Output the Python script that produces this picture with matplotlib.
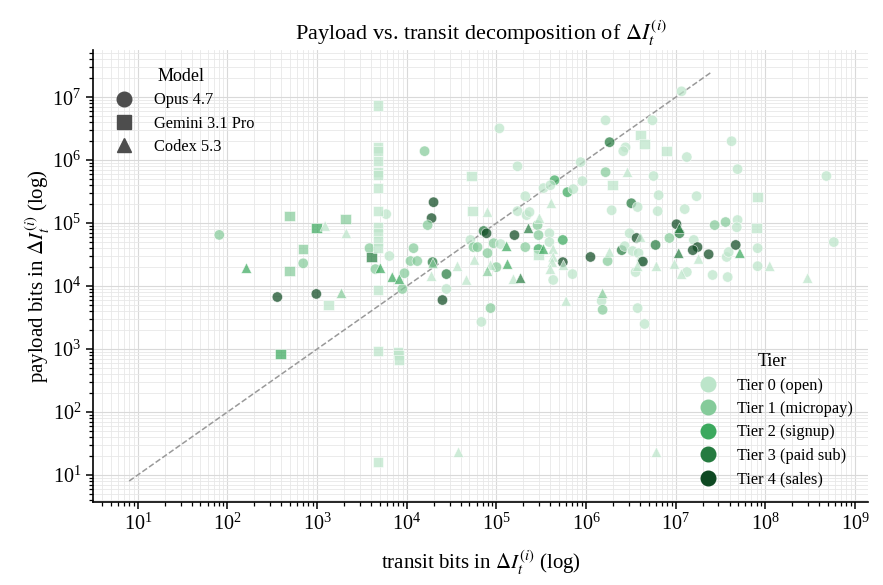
import matplotlib
matplotlib.use("Agg")
import matplotlib.pyplot as plt
from matplotlib.lines import Line2D
from matplotlib.ticker import LogLocator, NullFormatter
import numpy as np

plt.rcParams['font.family'] = ['Liberation Serif', 'DejaVu Serif']
plt.rcParams['mathtext.fontset'] = 'stix'

# ---- data: transit bits, payload bits, model, tier ----
transit = [
    81, 163, 360, 980, 490, 490, 980, 1230, 2070, 2120, 700, 700, 1870, 1340, 390,
    3840, 4040, 4470, 5080, 5900,
    4800, 4800, 4800, 4800, 4800, 4800, 4800, 4800, 4800, 4800, 4800, 4800, 4800, 4800, 4800,
    8000, 8100, 8200,
    1.08e5, 1.58e4, 1.72e5, 5.27e4, 8.7e5, 1.65e6, 1.83e6, 2.76e6, 2.6e6, 5.5e6,
    4.05e6, 4.5e6, 7.9e6, 4.45e5, 6.2e5, 7.2e5, 9.1e5, 3.35e5, 4.0e5, 1.65e6,
    2.9e6, 1.98e6, 5.66e6, 6.45e6, 2.1e5, 4.1e5, 1.99e4, 1.89e4, 1.71e4,
    5.4e4, 7.96e4, 1.72e5, 2.17e5, 2.34e5, 3.2e6, 3.76e6, 1.93e6, 6.3e6, 1.02e7,
    7.2e4, 7.76e4, 1.59e5, 2.28e5, 2.88e5, 3.02e5, 2.95e5, 3.9e5, 5.5e5, 8.5e6,
    1.19e4, 6.4e3,
    1.1e4, 1.31e4, 1.94e4, 1.96e4, 1.89e4, 9.42e3, 6.9e3, 8.28e3, 8.93e3, 2.77e4,
    2.77e4, 2.5e4, 3.68e4, 4.64e4, 5.13e4, 5.55e4, 6.15e4, 9.3e4, 7.96e4, 5.7e4,
    1.0e5, 8.6e4, 7.96e4, 1.33e5, 1.3e5, 1.11e5, 2.1e5, 1.55e5, 1.86e5, 8.6e4,
    6.8e4, 2.95e5, 3.35e5, 2.95e5, 3.9e5, 4.3e5, 4.3e5, 4.2e5, 4.3e5, 4.0e5,
    5.5e5, 5.6e5, 7.06e5, 1.12e6, 1.74e6, 1.83e6, 1.53e6, 1.49e6, 1.53e6, 6.0e5,
    2.5e6, 3.06e6, 2.7e6, 3.3e6, 3.66e6, 4.05e6, 3.85e6, 4.17e6, 4.3e6, 3.76e6,
    3.57e6, 3.76e6, 4.5e6, 5.96e6, 6.1e6, 1.08e7, 9.7e6,
    1.71e7, 1.26e7, 8.2e7, 8.0e7, 2.72e7, 3.6e7, 4.9e7, 4.8e7, 1.1e7, 1.1e7,
    1.59e7, 1.75e7, 1.55e7, 2.33e7, 1.8e7, 1.33e7, 1.16e7, 2.58e7, 3.8e7, 3.7e7,
    3.9e7, 4.67e7, 5.2e7, 8.2e7, 8.2e7, 1.12e8, 2.96e8, 5.8e8,
    1.16e7, 4.2e7, 1.33e7, 4.9e7, 4.8e8,
    3.78e4, 6.1e6,
]
payload = [
    6.5e4, 1.93e4, 6.7e3, 7.5e3, 1.29e5, 1.73e4, 8.3e4, 9.0e4, 1.16e5, 6.9e4, 3.87e4, 2.3e4, 7.7e3, 5.0e3, 830,
    4.0e4, 2.9e4, 1.86e4, 1.93e4, 1.39e5,
    7.4e6, 1.6e6, 1.39e6, 9.6e5, 6.5e5, 5.8e5, 3.6e5, 1.55e5, 8.6e4, 6.9e4, 5.2e4, 4.0e4, 8.6e3, 930, 16,
    890, 800, 670,
    3.2e6, 1.39e6, 8.0e5, 5.6e5, 9.3e5, 4.3e6, 1.93e6, 1.6e6, 1.39e6, 4.3e6,
    2.5e6, 1.8e6, 1.39e6, 4.8e5, 3.1e5, 3.47e5, 4.65e5, 3.6e5, 4.0e5, 6.45e5,
    6.45e5, 4.0e5, 5.6e5, 2.78e5, 2.68e5, 2.07e5, 2.15e5, 1.2e5, 9.3e4,
    1.55e5, 1.5e5, 1.55e5, 1.34e5, 1.5e5, 2.07e5, 1.8e5, 1.6e5, 1.55e5, 9.6e4,
    7.5e4, 6.9e4, 6.45e4, 8.3e4, 9.3e4, 1.2e5, 6.45e4, 6.9e4, 5.4e4, 5.8e4,
    4.0e4, 3.0e4,
    2.5e4, 2.5e4, 2.4e4, 2.3e4, 1.44e4, 1.6e4, 1.39e4, 1.29e4, 9.0e3, 1.55e4,
    9.0e3, 6.0e3, 2.07e4, 1.25e4, 5.4e4, 4.16e4, 4.16e4, 4.8e4, 3.34e4, 2.6e4,
    2.0e4, 2.15e4, 1.73e4, 2.24e4, 4.3e4, 4.65e4, 4.16e4, 1.29e4, 1.34e4, 4.47e3,
    2.7e3, 3.87e4, 3.87e4, 3.1e4, 5.0e4, 3.87e4, 2.9e4, 2.4e4, 1.25e4, 1.86e4,
    2.4e4, 2.15e4, 1.55e4, 2.9e4, 2.5e4, 3.47e4, 7.7e3, 5.8e3, 4.2e3, 5.8e3,
    3.72e4, 6.9e4, 4.3e4, 3.6e4, 5.8e4, 6.0e4, 3.34e4, 2.5e4, 2.45e4, 2.07e4,
    1.67e4, 4.47e3, 2.5e3, 4.5e4, 2.07e4, 3.34e4, 2.24e4,
    2.68e5, 1.67e5, 2.6e5, 8.3e4, 9.3e4, 1.04e5, 1.12e5, 8.6e4, 8.3e4, 6.9e4,
    5.4e4, 4.16e4, 3.72e4, 3.2e4, 2.7e4, 1.67e4, 1.55e4, 1.5e4, 1.39e4, 2.9e4,
    3.47e4, 4.5e4, 3.34e4, 4.0e4, 2.07e4, 2.07e4, 1.34e4, 5.0e4,
    1.24e7, 2.0e6, 1.12e6, 7.2e5, 5.6e5,
    23, 23,
]
model = list(
    "OCOOGGGCGCGOCGG"
    "OGOCO"
    "GGGGGGGGGGGGGGG"
    "GGG"
    "OOOGOOOOOO"
    "GGGOOOOOOO"
    "CGOOOCOOO"
    "GCOOOOOOOO"
    "OOOCOCOOOO"
    "OO"
    "OOOCCOCCOO"
    "OOCCOOOOOC"
    "OCCCCOOCCO"
    "OOCGOCCCOC"
    "OCOOOCCOOC"
    "OOOOOCOOOC"
    "OOOOCCC"
    "OOGGOOOOCO"
    "OOOOCOCOOO"
    "OOCOOCCO"
    "OOOOO"
    "CC"
)
tier = [
    1, 2, 4, 4, 1, 1, 2, 0, 1, 0, 1, 1, 1, 0, 2,
    1, 3, 1, 2, 0,
    0, 0, 0, 0, 0, 0, 0, 0, 0, 0, 0, 0, 0, 0, 0,
    0, 0, 0,
    0, 1, 0, 0, 0, 0, 3, 0, 0, 0,
    0, 0, 0, 2, 2, 0, 0, 0, 0, 1,
    0, 0, 0, 0, 0, 0, 4, 4, 1,
    0, 0, 0, 0, 0, 3, 0, 0, 0, 4,
    3, 4, 4, 3, 1, 0, 1, 0, 2, 1,
    1, 0,
    1, 1, 3, 1, 0, 1, 2, 2, 1, 3,
    0, 4, 0, 0, 0, 1, 1, 1, 1, 0,
    1, 0, 1, 2, 2, 0, 1, 0, 3, 1,
    0, 2, 2, 0, 0, 0, 0, 0, 0, 0,
    4, 0, 0, 4, 1, 0, 1, 0, 1, 0,
    3, 0, 0, 0, 4, 0, 0, 0, 4, 0,
    0, 0, 0, 3, 0, 3, 0,
    0, 0, 0, 0, 1, 1, 0, 0, 3, 3,
    0, 4, 4, 4, 0, 0, 0, 0, 0, 0,
    0, 4, 2, 0, 0, 0, 0, 0,
    0, 0, 0, 0, 0,
    0, 0,
]

model_names = {"O": "Opus 4.7", "G": "Gemini 3.1 Pro", "C": "Codex 5.3"}
model_markers = {"O": "o", "G": "s", "C": "^"}
tier_labels = ["Tier 0 (open)", "Tier 1 (micropay)", "Tier 2 (signup)",
               "Tier 3 (paid sub)", "Tier 4 (sales)"]
tier_colors = ["#bce5ca", "#85cb9a", "#3ca95e", "#257b40", "#0e4922"]
x_major = [1e1, 1e2, 1e3, 1e4, 1e5, 1e6, 1e7, 1e8, 1e9]
y_major = [1e1, 1e2, 1e3, 1e4, 1e5, 1e6, 1e7]

transit = np.array(transit, dtype=float)
payload = np.array(payload, dtype=float)
model = np.array(model)
tier = np.array(tier)

fig = plt.figure(figsize=(8.83, 5.85), dpi=100)
ax = fig.add_axes([93 / 883, 83 / 585, 775 / 883, 452 / 585])

for m in ["O", "G", "C"]:
    sel = model == m
    cols = [tier_colors[t] for t in tier[sel]]
    ax.scatter(transit[sel], payload[sel], c=cols, marker=model_markers[m],
               s=56, alpha=0.72, edgecolors="white", linewidths=0.5, zorder=3)

lo = payload.min() * 0.5
hi = payload.max() * 2
ax.plot([lo, hi], [lo, hi], ls="--", color="#999999", lw=1.1, zorder=2)

ax.set_xscale("log")
ax.set_yscale("log")
ax.set_xlim(10 ** 0.50, 10 ** 9.145)
ax.set_ylim(10 ** 0.57, 10 ** 7.75)
ax.set_xticks(x_major)
ax.set_yticks(y_major)
ax.xaxis.set_minor_locator(LogLocator(base=10, subs=np.arange(2, 10), numticks=20))
ax.yaxis.set_minor_locator(LogLocator(base=10, subs=np.arange(2, 10), numticks=20))
ax.xaxis.set_minor_formatter(NullFormatter())
ax.yaxis.set_minor_formatter(NullFormatter())

ax.grid(True, which="major", color="#d9d9d9", lw=0.8, zorder=0)
ax.grid(True, which="minor", color="#e8e8e8", lw=0.6, zorder=0)
ax.set_axisbelow(True)
for s in ["top", "right"]:
    ax.spines[s].set_visible(False)
for s in ["left", "bottom"]:
    ax.spines[s].set_linewidth(1.2)
ax.tick_params(which="major", direction="out", length=5, width=1.1, labelsize=14.5)
ax.tick_params(which="minor", direction="out", length=3, width=0.9)

ax.set_title(r"Payload vs. transit decomposition of $\Delta I_t^{(i)}$", fontsize=16, pad=7)
ax.set_xlabel(r"transit bits in $\Delta I_t^{(i)}$ (log)", fontsize=15, labelpad=10)
ax.set_ylabel(r"payload bits in $\Delta I_t^{(i)}$ (log)", fontsize=15, labelpad=0)

model_handles = [Line2D([], [], marker=model_markers[m], ls="", color="#4d4d4d",
                        markersize=10.5, label=model_names[m]) for m in ["O", "G", "C"]]
leg1 = ax.legend(handles=model_handles, title="Model", loc="upper left",
                 bbox_to_anchor=(0.0, 0.993), frameon=False, fontsize=11.8,
                 title_fontsize=13, handletextpad=0.8, labelspacing=0.45,
                 borderaxespad=0.5)
ax.add_artist(leg1)

tier_handles = [Line2D([], [], marker="o", ls="", color=c, markersize=10.5, label=l)
                for c, l in zip(tier_colors, tier_labels)]
ax.legend(handles=tier_handles, title="Tier", loc="lower right",
          bbox_to_anchor=(1.0, 0.0), frameon=False, fontsize=11.8,
          title_fontsize=13, handletextpad=0.8, labelspacing=0.45,
          borderaxespad=0.5)

fig.savefig("out.png", dpi=100)
